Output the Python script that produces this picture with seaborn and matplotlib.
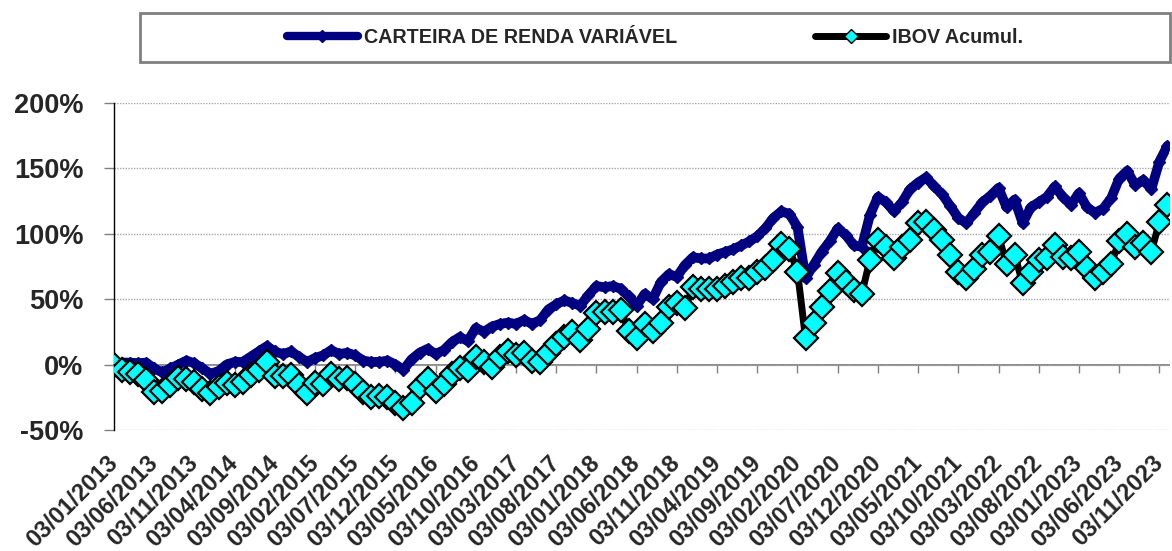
import numpy as np
import matplotlib
matplotlib.use("Agg")
import matplotlib.pyplot as plt
import matplotlib.ticker as mticker
from matplotlib.patches import Rectangle
from matplotlib.lines import Line2D
import pandas as pd
import seaborn as sns

# rótulos do eixo x (a cada 5 meses)
tick_labels = ["03/01/2013", "03/06/2013", "03/11/2013", "03/04/2014", "03/09/2014",
               "03/02/2015", "03/07/2015", "03/12/2015", "03/05/2016", "03/10/2016",
               "03/03/2017", "03/08/2017", "03/01/2018", "03/06/2018", "03/11/2018",
               "03/04/2019", "03/09/2019", "03/02/2020", "03/07/2020", "03/12/2020",
               "03/05/2021", "03/10/2021", "03/03/2022", "03/08/2022", "03/01/2023",
               "03/06/2023", "03/11/2023"]

# retorno acumulado mensal (%), jan/2013 a dez/2023
carteira = [0, 1.5, 1.5, 1, 1.5, -3, -6, -3, 0, 3,
            1, -3, -7, -5, 0, 2, 2, 6, 10, 14,
            10, 8, 10, 6, 2, 5, 7, 11, 8, 9,
            7, 3, 2, 2, 3, 0, -4, 4, 9, 12,
            8, 11, 17, 21, 18, 28, 25, 29, 31, 32,
            31, 34, 31, 34, 42, 46, 49, 47, 45, 53,
            60, 59, 60, 58, 52, 45, 54, 50, 63, 69,
            67, 76, 82, 81, 81, 84, 86, 88, 91, 94,
            98, 104, 112, 117, 115, 105, 66, 76, 86, 94,
            104, 99, 91, 90, 114, 128, 124, 117, 124, 134,
            139, 143, 136, 130, 121, 112, 108, 116, 124, 129,
            135, 120, 126, 108, 120, 124, 128, 136, 128, 122,
            131, 120, 116, 119, 127, 142, 148, 137, 141, 134,
            155, 167]

ibov = [0, -4, -6, -7, -12, -21, -20, -16, -10, -11,
        -13, -19, -22, -17, -14, -16, -13, -8, -4, 2,
        -9, -9, -8, -16, -22, -14, -15, -7, -11, -10,
        -15, -21, -25, -24, -25, -29, -33, -29, -17, -11,
        -20, -15, -7, -3, -4, 6, 2, -2, 6, 10,
        7, 9, 3, 2, 9, 16, 21, 25, 19, 27,
        39, 40, 40, 42, 26, 20, 31, 26, 32, 44,
        47, 43, 59, 58, 58, 58, 60, 63, 66, 66,
        71, 74, 80, 92, 88, 71, 20, 32, 44, 56,
        70, 63, 57, 54, 80, 95, 90, 81, 90, 95,
        108, 109, 103, 95, 84, 71, 66, 73, 84, 86,
        98, 77, 84, 62, 71, 80, 81, 91, 82, 81,
        86, 74, 66, 71, 77, 94, 100, 90, 93, 86,
        109, 122]

df = pd.DataFrame({"mes": np.arange(len(carteira)), "carteira": carteira, "ibov": ibov})

sns.set_style("white")
plt.rcParams["font.family"] = ["Liberation Sans", "DejaVu Sans"]
plt.rcParams["font.weight"] = "bold"

W, H = 1172, 551
fig = plt.figure(figsize=(W / 100, H / 100), dpi=100)
ax = fig.add_axes([114 / W, 1 - 430 / H, (1169 - 114) / W, (430 - 102.7) / H])

navy = "#000080"
sns.lineplot(data=df, x="mes", y="carteira", ax=ax, color=navy, linewidth=7,
             marker="D", markersize=6.5, markerfacecolor=navy, markeredgecolor=navy,
             markeredgewidth=1, zorder=3)
sns.lineplot(data=df, x="mes", y="ibov", ax=ax, color="black", linewidth=5,
             marker="D", markersize=12.5, markerfacecolor="#00FFFF",
             markeredgecolor="black", markeredgewidth=1.6, zorder=4)

ax.set_xlabel("")
ax.set_ylabel("")
ax.set_xlim(0, 131.2)
ax.set_ylim(-50, 200)

ax.set_yticks([-50, 0, 50, 100, 150, 200])
ax.yaxis.set_major_formatter(mticker.FuncFormatter(lambda v, p: f"{v:.0f}%"))
ax.yaxis.grid(True, linestyle=(0, (1, 1)), color="#A6A6A6", linewidth=1)
ax.tick_params(axis="y", left=True, direction="out", length=7, width=1,
               color="#808080", pad=15, labelsize=19.5)

xt = np.arange(0, 131, 5)
ax.set_xticks(xt)
ax.set_xticklabels(tick_labels, rotation=45, ha="right", va="center",
                   rotation_mode="anchor", fontsize=17)
ax.tick_params(axis="x", length=0, pad=21)

for s in ["top", "right", "bottom"]:
    ax.spines[s].set_visible(False)
ax.spines["left"].set_color("black")
ax.spines["left"].set_linewidth(1)

# eixo horizontal na linha do 0%
sec = ax.secondary_xaxis(50 / 250)
sec.set_xticks(xt)
sec.tick_params(bottom=True, labelbottom=False, direction="out", length=6,
                width=1, color="#808080")
sec.spines["bottom"].set_color("#808080")
sec.spines["bottom"].set_linewidth(1.3)

# legenda
handles = [Line2D([], [], color=navy, lw=6, marker="D", markersize=6,
                  markerfacecolor=navy, markeredgecolor=navy),
           Line2D([], [], color="black", lw=5, marker="D", markersize=7,
                  markerfacecolor="#00FFFF", markeredgecolor="black", markeredgewidth=1)]
fig.legend(handles, ["CARTEIRA DE RENDA VARIÁVEL", "IBOV Acumul."], loc="center",
           bbox_to_anchor=(655 / W, 1 - 37.5 / H), ncol=2, frameon=False,
           columnspacing=7.0, handlelength=3.6, handletextpad=0.3,
           prop={"weight": "bold", "size": 14.2})
fig.add_artist(Rectangle((140 / W, 1 - 62 / H), (1170 - 140) / W, (62 - 13) / H,
                         transform=fig.transFigure, fill=False,
                         edgecolor="#808080", linewidth=2))

fig.savefig("out.png", dpi=100)
